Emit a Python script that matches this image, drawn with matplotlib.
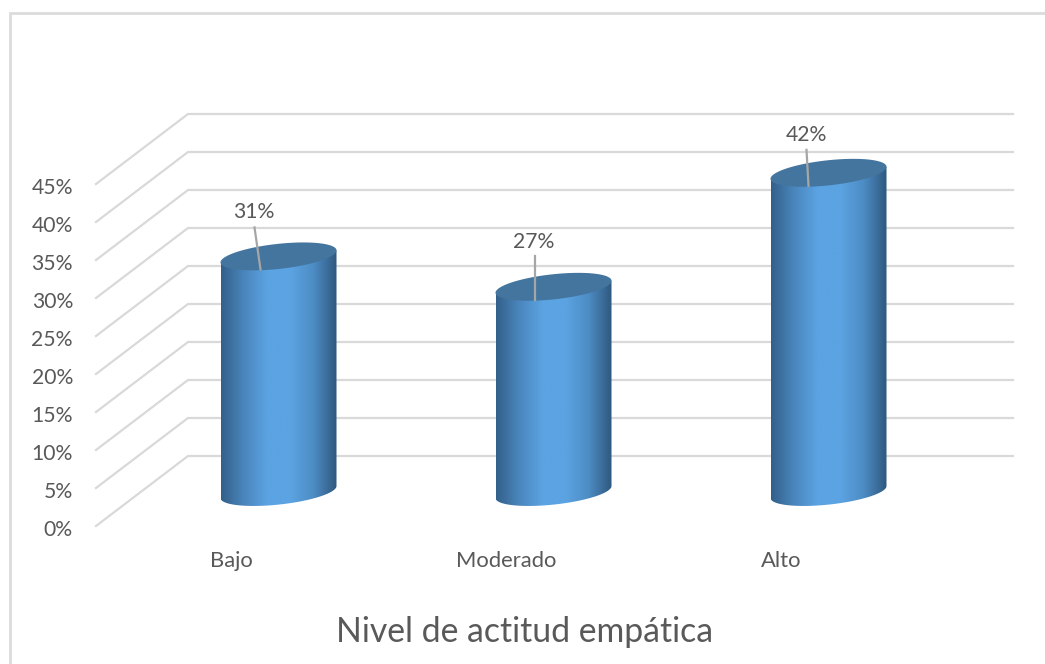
"""Nivel de actitud empatica: fake-3D cylinder chart, Excel style."""

import numpy as np
import matplotlib
matplotlib.use("Agg")
import matplotlib.pyplot as plt
from matplotlib.colors import LinearSegmentedColormap
from matplotlib.patches import Polygon

plt.rcParams["font.family"] = ["Lato", "DejaVu Sans"]

# ── Data ──────────────────────────────────────────────────────────────
CATEGORIES = ["Bajo", "Moderado", "Alto"]
VALUES = [31, 27, 42]
VALUE_LABELS = ["31%", "27%", "42%"]
TICKS = [0, 5, 10, 15, 20, 25, 30, 35, 40, 45]
TITLE = "Nivel de actitud empática"

# ── Geometry (pixels unless noted) ────────────────────────────────────
W, H = 1045, 664
PX_PER_PCT = 7.6
PX_PER_CAT = 275.0
ZERO_Y = 526.0          # front edge, 0%
FIRST_CAT_X = 278.5
WALL_DX, WALL_DY = 92, 70     # depth of the back wall
BAR_DY = 34                   # depth of the cylinder axis
RX, RY, TILT = 58, 12.6, 6    # ellipse of the cylinder
# label / leader offsets from the centre of each cylinder top
LABEL_DX = [-25, -20, -22]
LABEL_DY = [44, 45, 38]
LEAD_TOP = [(-24, 29), (-19, 31), (-22, 23)]
LEAD_BOT = [(-18, -13), (-19, -13), (-20, -13)]

GRID = "#d9d9d9"
TEXT = "#595959"
cmap = LinearSegmentedColormap.from_list(
    "cyl", ["#33608a", "#4a86bd", "#5ba3e2", "#5ba3e2", "#4d8cc4", "#2f587e"])

fig = plt.figure(figsize=(W / 100, H / 100), dpi=100)
ax = fig.add_axes([0, 0, 1, 1])
# data x = category index, data y = percent; limits map them onto the pixels
XLIM = (-FIRST_CAT_X / PX_PER_CAT, (W - FIRST_CAT_X) / PX_PER_CAT)
YLIM = ((ZERO_Y - H) / PX_PER_PCT, ZERO_Y / PX_PER_PCT)
ax.set_xlim(XLIM)
ax.set_ylim(YLIM)
ax.axis("off")

sx = 1 / PX_PER_CAT
sy = 1 / PX_PER_PCT
x_left = (96 - FIRST_CAT_X) * sx
x_right = (1013 - FIRST_CAT_X - WALL_DX) * sx


def ellipse(cx, cy, t):
    return np.column_stack([cx + RX * sx * np.cos(t),
                            cy + (RY * np.sin(t) + TILT * np.cos(t)) * sy])


# ── Outer frame (open on the right) ───────────────────────────────────
fx = [10 / W, 10 / W, 1]
fy = [0, 1 - 13 / H, 1 - 13 / H]
ax.plot(fx, fy, transform=fig.transFigure, color="#dcdcdc", lw=2.0, zorder=1,
        solid_joinstyle="miter")

# ── Grid on side wall + back wall ─────────────────────────────────────
for tick in TICKS:
    ax.plot([x_left, x_left + WALL_DX * sx, x_right + WALL_DX * sx],
            [tick, tick + WALL_DY * sy, tick + WALL_DY * sy],
            color=GRID, lw=1.6, zorder=2, solid_joinstyle="miter")
    ax.text(x_left - 23 * sx, tick - 4 * sy, f"{tick}%", ha="right", va="center",
            fontsize=15.2, color=TEXT, zorder=5)

# ── Cylinders ─────────────────────────────────────────────────────────
base = BAR_DY * sy
grad = np.linspace(0, 1, 256).reshape(1, -1)
for i, (value, label) in enumerate(zip(VALUES, VALUE_LABELS)):
    top = value + base
    # side outline: top ellipse extremes, then the lower half of the base ellipse
    t = np.linspace(0, -np.pi, 80)
    side = np.vstack([ellipse(i, top, np.array([np.pi, 0.0])),
                      ellipse(i, base, t)])
    patch = Polygon(side, closed=True, fc="none", ec="none", zorder=3)
    ax.add_patch(patch)
    im = ax.imshow(grad, cmap=cmap, aspect="auto", zorder=3, interpolation="bilinear",
                   extent=[i - RX * sx, i + RX * sx, base - 30 * sy, top + 20 * sy])
    im.set_clip_path(patch)

    cap = ellipse(i, top, np.linspace(0, 2 * np.pi, 160))
    ax.add_patch(Polygon(cap, closed=True, fc="#43759f", ec="none", zorder=4))

    # leader line + value label
    ax.plot([i + LEAD_TOP[i][0] * sx, i + LEAD_BOT[i][0] * sx],
            [top + LEAD_TOP[i][1] * sy, top + LEAD_BOT[i][1] * sy],
            color="#a6a6a6", lw=1.6, zorder=5)
    ax.text(i + LABEL_DX[i] * sx, top + LABEL_DY[i] * sy, label, ha="center", va="center",
            fontsize=15.2, color=TEXT, zorder=6)
    ax.text(i - 47 * sx, -35 * sy, CATEGORIES[i], ha="center", va="center",
            fontsize=15.8, color=TEXT, zorder=6)

ax.set_xlim(XLIM)   # imshow resets the limits
ax.set_ylim(YLIM)

ax.text((525 - FIRST_CAT_X) * sx, (ZERO_Y - 632) * sy, TITLE, ha="center",
        va="center", fontsize=24.3, color=TEXT, zorder=6)

fig.savefig("out.png", dpi=100)
